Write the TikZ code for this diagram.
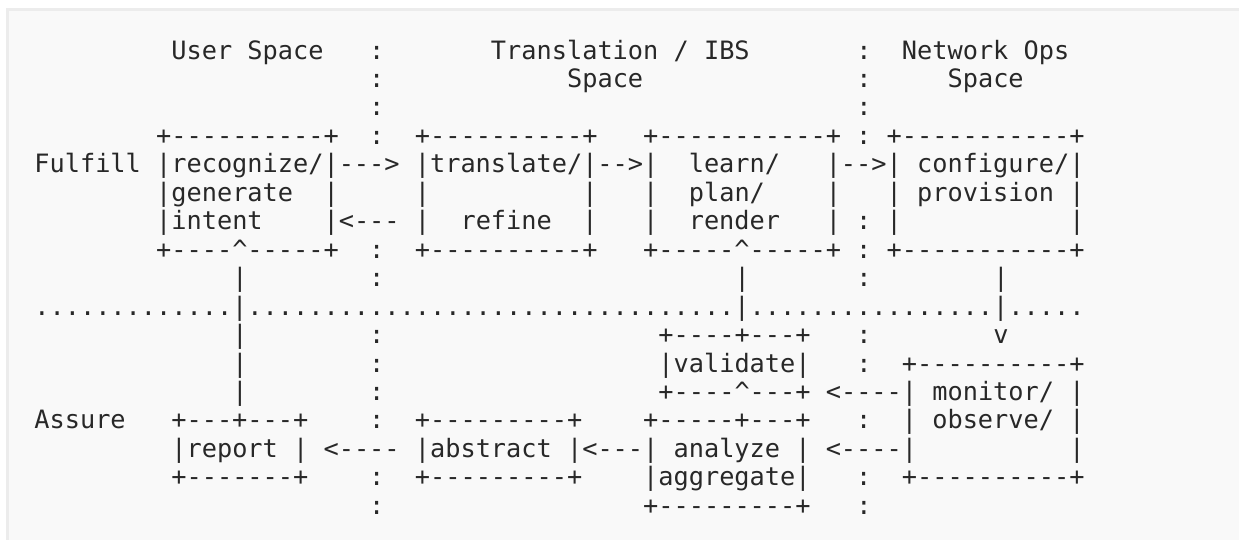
\documentclass[tikz,border=0pt]{standalone}
\usepackage{fontspec}
\setmonofont{DejaVu Sans Mono}
\definecolor{ink}{RGB}{40,40,40}
\definecolor{prefill}{RGB}{249,249,249}
\definecolor{preline}{RGB}{236,236,236}
\newcommand\gap[1]{\hspace*{\dimexpr 15.22pt*#1\relax}}
\newcommand\caret{\textasciicircum}
\tikzset{
  rowtext/.style={anchor=base west, inner sep=0pt, outer sep=0pt,
    font=\ttfamily\fontsize{25.28}{28.45}\selectfont, text=ink},
  prebox/.style={fill=prefill, draw=preline, line width=2.5pt}
}
\begin{document}
\begin{tikzpicture}[x=1pt,y=-1pt]
\useasboundingbox (0,0) rectangle (1239,540);
\clip (0,0) rectangle (1239,540);
\fill[white] (0,0) rectangle (1239,540);
\draw[prebox] (7.5,9.5) rectangle (1260,560);
\def\bx{34.4}
\node[rowtext] (r0) at (\bx,{59.1+28.45*0}) {\gap{9}User\gap{1}Space\gap{3}:\gap{7}Translation\gap{1}/\gap{1}IBS\gap{7}:\gap{2}Network\gap{1}Ops};
\node[rowtext] (r1) at (\bx,{59.1+28.45*1}) {\gap{22}:\gap{12}Space\gap{14}:\gap{5}Space};
\node[rowtext] (r2) at (\bx,{59.1+28.45*2}) {\gap{22}:\gap{31}:};
\node[rowtext] (r3) at (\bx,{59.1+28.45*3}) {\gap{8}+----------+\gap{2}:\gap{2}+----------+\gap{3}+-----------+\gap{1}:\gap{1}+-----------+};
\node[rowtext] (r4) at (\bx,{59.1+28.45*4}) {Fulfill\gap{1}|recognize/|--->\gap{1}|translate/|-->|\gap{2}learn/\gap{3}|-->|\gap{1}configure/|};
\node[rowtext] (r5) at (\bx,{59.1+28.45*5}) {\gap{8}|generate\gap{2}|\gap{5}|\gap{10}|\gap{3}|\gap{2}plan/\gap{4}|\gap{3}|\gap{1}provision\gap{1}|};
\node[rowtext] (r6) at (\bx,{59.1+28.45*6}) {\gap{8}|intent\gap{4}|<---\gap{1}|\gap{2}refine\gap{2}|\gap{3}|\gap{2}render\gap{3}|\gap{1}:\gap{1}|\gap{11}|};
\node[rowtext] (r7) at (\bx,{59.1+28.45*7}) {\gap{8}+----\caret-----+\gap{2}:\gap{2}+----------+\gap{3}+-----\caret-----+\gap{1}:\gap{1}+-----------+};
\node[rowtext] (r8) at (\bx,{59.1+28.45*8}) {\gap{13}|\gap{8}:\gap{23}|\gap{7}:\gap{8}|};
\node[rowtext] (r9) at (\bx,{59.1+28.45*9}) {.............|................................|................|.....};
\node[rowtext] (r10) at (\bx,{59.1+28.45*10}) {\gap{13}|\gap{8}:\gap{18}+----+---+\gap{3}:\gap{8}v};
\node[rowtext] (r11) at (\bx,{59.1+28.45*11}) {\gap{13}|\gap{8}:\gap{18}|validate|\gap{3}:\gap{2}+----------+};
\node[rowtext] (r12) at (\bx,{59.1+28.45*12}) {\gap{13}|\gap{8}:\gap{18}+----\caret---+\gap{1}<----|\gap{1}monitor/\gap{1}|};
\node[rowtext] (r13) at (\bx,{59.1+28.45*13}) {Assure\gap{3}+---+---+\gap{4}:\gap{2}+---------+\gap{4}+-----+---+\gap{3}:\gap{2}|\gap{1}observe/\gap{1}|};
\node[rowtext] (r14) at (\bx,{59.1+28.45*14}) {\gap{9}|report\gap{1}|\gap{1}<----\gap{1}|abstract\gap{1}|<---|\gap{1}analyze\gap{1}|\gap{1}<----|\gap{10}|};
\node[rowtext] (r15) at (\bx,{59.1+28.45*15}) {\gap{9}+-------+\gap{4}:\gap{2}+---------+\gap{4}|aggregate|\gap{3}:\gap{2}+----------+};
\node[rowtext] (r16) at (\bx,{59.1+28.45*16}) {\gap{22}:\gap{17}+---------+\gap{3}:};
\end{tikzpicture}
\end{document}
